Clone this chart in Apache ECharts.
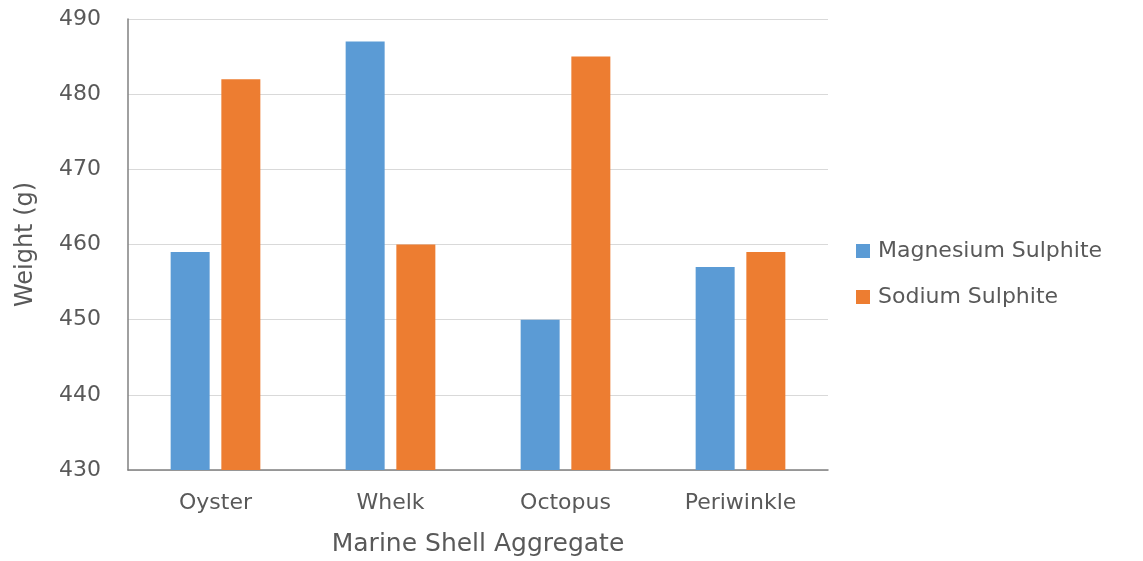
<!DOCTYPE html>
<html>
<head>
<meta charset="utf-8">
<script src="https://cdn.jsdelivr.net/npm/echarts@6/dist/echarts.min.js"></script>
<style>
  html, body { margin: 0; padding: 0; background: #fff; }
  #chart { width: 1143px; height: 561px; }
</style>
</head>
<body>
<div id="chart"></div>
<script>
// Weights of marine shell aggregate samples under two sulphite treatments
const categories = ['Oyster', 'Whelk', 'Octopus', 'Periwinkle'];
const magnesiumSulphite = [459, 487, 450, 457];
const sodiumSulphite = [482, 460, 485, 459];
const seriesNames = ['Magnesium Sulphite', 'Sodium Sulphite'];
const yMin = 430, yMax = 490, yStep = 10;

const FONT = '"DejaVu Sans", "Open Sans", sans-serif';
const TEXT = '#595959';

const chart = echarts.init(document.getElementById('chart'));
chart.setOption({
  animation: false,
  textStyle: { fontFamily: FONT, color: TEXT },
  grid: {
    left: 128, right: 315, top: 19, bottom: 91,
    containLabel: false,
    outerBoundsMode: 'none'
  },
  legend: {
    orient: 'vertical',
    left: 851,
    top: 235,
    itemWidth: 14,
    itemHeight: 14,
    itemGap: 24,
    icon: 'rect',
    textStyle: { fontFamily: FONT, fontSize: 22, color: TEXT, padding: [0, 0, 0, 3] },
    data: seriesNames
  },
  xAxis: {
    type: 'category',
    data: categories,
    name: 'Marine Shell Aggregate',
    nameLocation: 'middle',
    nameGap: 62,
    nameTextStyle: { fontFamily: FONT, fontSize: 25, color: TEXT },
    axisLine: { lineStyle: { color: '#808080', width: 1.5 } },
    axisTick: { show: false },
    axisLabel: { fontFamily: FONT, fontSize: 22, color: TEXT, margin: 22 }
  },
  yAxis: {
    type: 'value',
    min: yMin,
    max: yMax,
    interval: yStep,
    name: 'Weight (g)',
    nameLocation: 'middle',
    nameRotate: 90,
    nameGap: 90,
    nameTextStyle: { fontFamily: FONT, fontSize: 24, color: TEXT },
    axisLine: { show: true, lineStyle: { color: '#808080', width: 1.5 } },
    axisTick: { show: false },
    axisLabel: { fontFamily: FONT, fontSize: 22, color: TEXT, margin: 27 },
    splitLine: { lineStyle: { color: '#d9d9d9', width: 1 } }
  },
  series: [
    {
      name: seriesNames[0],
      type: 'bar',
      data: magnesiumSulphite,
      barWidth: 39,
      barGap: '30%',
      itemStyle: { color: '#5B9BD5' }
    },
    {
      name: seriesNames[1],
      type: 'bar',
      data: sodiumSulphite,
      barWidth: 39,
      barGap: '30%',
      itemStyle: { color: '#ED7D31' }
    }
  ]
});
</script>
</body>
</html>
